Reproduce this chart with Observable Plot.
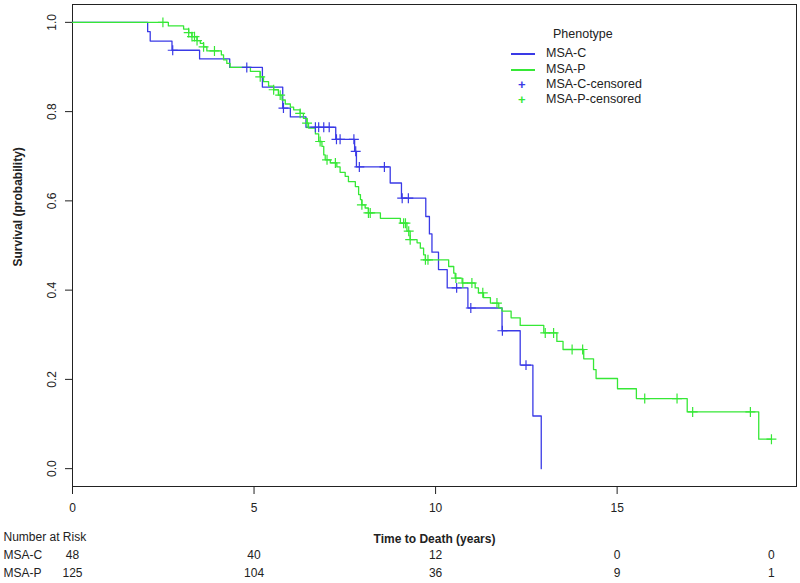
<!DOCTYPE html>
<html><head><meta charset="utf-8">
<script src="https://cdn.jsdelivr.net/npm/d3@7"></script>
<script src="https://cdn.jsdelivr.net/npm/@observablehq/plot@0.6"></script>
<style>
body{margin:0;background:#fff;font-family:"Liberation Sans",Arial,sans-serif;}
#wrap{position:relative;width:800px;height:583px;overflow:hidden;}
#legend{position:absolute;left:0;top:0;font-size:12.5px;color:#222;}
#legend .item{position:absolute;white-space:nowrap;line-height:15px;}
#legend .sw{position:absolute;height:0;}
#legend .pl{position:absolute;font-size:13px;font-weight:bold;line-height:15px;}
</style></head><body><div id="wrap"></div>
<script>
// ---- data ----
const groups = ["MSA-C", "MSA-P"];
const colors = ["#3a3ae6", "#36e836"];
const xTicks = [0, 5, 10, 15];
const yTicks = [0, 0.2, 0.4, 0.6, 0.8, 1.0];

// Kaplan-Meier steps [time (years), survival]
const stepsC = [[0,1],[2.07,0.979],[2.14,0.958],[2.74,0.9375],[3.50,0.918],[4.33,0.899],[5.23,0.855],
  [5.79,0.808],[6.00,0.788],[6.43,0.765],[7.25,0.738],[7.77,0.711],[7.82,0.676],[8.75,0.640],[9.06,0.606],
  [9.73,0.565],[9.83,0.526],[9.90,0.485],[10.08,0.446],[10.32,0.405],[10.89,0.360],[11.83,0.309],
  [12.33,0.232],[12.68,0.118],[12.91,0]];
const stepsP = [[0,1],[2.64,0.992],[3.06,0.985],[3.20,0.977],[3.29,0.968],[3.43,0.959],[3.52,0.953],
  [3.61,0.945],[3.70,0.936],[4.10,0.927],[4.16,0.916],[4.25,0.908],[4.34,0.899],[4.90,0.890],[5.17,0.878],
  [5.26,0.867],[5.40,0.857],[5.54,0.849],[5.67,0.837],[5.77,0.826],[5.86,0.817],[6.00,0.810],[6.09,0.804],
  [6.27,0.796],[6.36,0.785],[6.46,0.774],[6.50,0.763],[6.69,0.750],[6.78,0.733],[6.87,0.722],[6.92,0.703],
  [6.96,0.692],[7.10,0.685],[7.28,0.676],[7.37,0.664],[7.51,0.655],[7.60,0.643],[7.79,0.632],[7.88,0.614],
  [7.93,0.603],[7.97,0.591],[8.06,0.584],[8.15,0.573],[8.48,0.561],[9.03,0.550],[9.21,0.532],[9.30,0.513],
  [9.49,0.506],[9.58,0.494],[9.67,0.479],[9.72,0.468],[10.36,0.453],[10.50,0.438],[10.54,0.427],
  [10.73,0.416],[11.09,0.405],[11.18,0.394],[11.32,0.383],[11.51,0.371],[11.74,0.360],[11.83,0.353],
  [12.08,0.338],[12.33,0.321],[12.98,0.304],[13.34,0.285],[13.51,0.267],[14.08,0.246],[14.35,0.222],
  [14.42,0.202],[15.01,0.179],[15.53,0.157],[16.93,0.127],[18.90,0.066]];

// censoring times (years)
const censorC = [2.76,4.80,5.81,6.69,6.78,6.92,7.07,7.27,7.37,7.75,7.80,7.90,8.59,9.08,9.25,10.58,10.97,11.84,12.49];
const censorP = [2.49,3.20,3.29,3.36,3.43,3.61,3.91,5.17,5.54,5.72,6.27,6.46,6.82,7.01,7.24,7.97,8.15,8.20,
  9.12,9.17,9.26,9.30,9.72,9.79,10.56,10.75,11.00,11.30,11.69,13.02,13.25,13.76,14.05,15.76,16.65,17.08,18.67,19.25];

// number at risk table
const riskTimes = [0, 5, 10, 15, 19.25];
const riskC = [48, 40, 12, 0, 0];
const riskP = [125, 104, 36, 9, 1];

// ---- build tables ----
function survAt(steps, t) { let s = 1; for (const [ti, si] of steps) { if (ti <= t) s = si; } return s; }
function lineRows(g, steps, cens) {
  const rows = steps.map(([t, s]) => ({g, t, s}));
  const last = d3.max(cens);
  if (last > steps[steps.length - 1][0]) rows.push({g, t: last, s: survAt(steps, last)});
  return rows;
}
const lineData = [...lineRows("MSA-C", stepsC, censorC), ...lineRows("MSA-P", stepsP, censorP)];
const censorData = [
  ...censorC.map(t => ({g: "MSA-C", t, s: survAt(stepsC, t)})),
  ...censorP.map(t => ({g: "MSA-P", t, s: survAt(stepsP, t)}))
];
const riskRowC = riskTimes.map((t, i) => ({t, n: riskC[i]}));
const riskRowP = riskTimes.map((t, i) => ({t, n: riskP[i]}));

const plot = Plot.plot({
  width: 800, height: 583,
  marginTop: 4, marginBottom: 97, marginLeft: 72, marginRight: 4,
  style: {fontFamily: "'Liberation Sans', Arial, sans-serif", fontSize: "12px", color: "#222", background: "white", overflow: "visible"},
  x: {domain: [0, 19.94]},
  y: {domain: [-0.04, 1.04]},
  color: {domain: groups, range: colors},
  marks: [
    Plot.frame({stroke: "#222", strokeWidth: 1}),
    Plot.axisX({ticks: xTicks, tickSize: 8, tickPadding: 9, tickFormat: d => String(d), label: null, stroke: "#222"}),
    Plot.axisY({ticks: yTicks, tickSize: 7, tickPadding: 10, tickRotate: -90, tickFormat: d => d.toFixed(1), label: null, stroke: "#222"}),
    Plot.text(["Survival (probability)"], {frameAnchor: "left", dx: -54, dy: 21, rotate: -90, fontWeight: "bold"}),
    Plot.line(lineData, {x: "t", y: "s", z: "g", stroke: "g", curve: "step-after", strokeWidth: 1.3}),
    Plot.dot(censorData, {x: "t", y: "s", stroke: "g", symbol: "plus", r: 3.3, strokeWidth: 1.2}),
    Plot.text(["Time to Death (years)"], {frameAnchor: "bottom", dy: 56, fontWeight: "bold"}),
    Plot.text(["Number at Risk"], {frameAnchor: "bottom-left", dx: -69, dy: 54, textAnchor: "start"}),
    Plot.text([groups[0]], {frameAnchor: "bottom-left", dx: -69, dy: 72, textAnchor: "start"}),
    Plot.text([groups[1]], {frameAnchor: "bottom-left", dx: -69, dy: 90, textAnchor: "start"}),
    Plot.text(riskRowC, {x: "t", text: "n", frameAnchor: "bottom", dy: 72}),
    Plot.text(riskRowP, {x: "t", text: "n", frameAnchor: "bottom", dy: 90})
  ]
});
const wrap = document.getElementById("wrap");
wrap.appendChild(plot);

// ---- legend (HTML overlay) ----
const legendLabels = ["MSA-C", "MSA-P", "MSA-C-censored", "MSA-P-censored"];
const lg = document.createElement("div");
lg.id = "legend";
const ttl = document.createElement("div");
ttl.className = "item"; ttl.textContent = "Phenotype";
ttl.style.left = "553px"; ttl.style.top = "27px";
lg.appendChild(ttl);
const rowY = [54, 70, 85, 100];
legendLabels.forEach((lab, i) => {
  const col = colors[i % 2];
  if (i < 2) {
    const sw = document.createElement("div");
    sw.className = "sw";
    sw.style.left = "511px"; sw.style.width = "24px"; sw.style.top = (rowY[i] - 1) + "px";
    sw.style.borderTop = "2px solid " + col;
    lg.appendChild(sw);
  } else {
    const p = document.createElement("div");
    p.className = "pl"; p.textContent = "+"; p.style.color = col;
    p.style.left = "518px"; p.style.top = (rowY[i] - 8) + "px";
    lg.appendChild(p);
  }
  const t = document.createElement("div");
  t.className = "item"; t.textContent = lab;
  t.style.left = "546px"; t.style.top = (rowY[i] - 8) + "px";
  lg.appendChild(t);
});
wrap.appendChild(lg);
</script>
</body></html>
